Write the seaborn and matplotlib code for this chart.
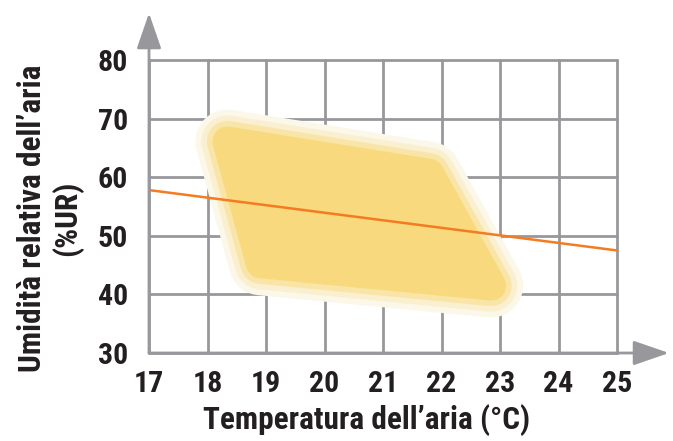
import numpy as np
import matplotlib
matplotlib.use("Agg")
import matplotlib.pyplot as plt
import seaborn as sns
from matplotlib.patches import Polygon

# comfort zone (inner corners, temperature / humidity)
zone_t = [18.34, 18.91, 22.85, 21.79]
zone_h = [66.1, 45.3, 41.5, 60.6]

# reference line
line_t = [17, 25]
line_h = [57.8, 47.5]

x_ticks = [17, 18, 19, 20, 21, 22, 23, 24, 25]
y_ticks = [30, 40, 50, 60, 70, 80]

sns.set_style("white")
plt.rcParams['font.family'] = ['Roboto Condensed', 'DejaVu Sans']

grey = "#98989c"
txt = "#231f20"

fig = plt.figure(figsize=(6.73, 4.41), dpi=100)
ax = fig.add_axes([149 / 673, 88 / 441, 468 / 673, 293 / 441])

pts = np.column_stack([zone_t, zone_h])
# soft edge bands, outermost first
bands = [(46, "#fbf7e9"), (37.5, "#faefcf"), (29.5, "#f9e5a8"), (21.5, "#f8d97d")]
for lw, col in bands:
    ax.add_patch(Polygon(pts, closed=True, facecolor=col, edgecolor=col,
                         linewidth=lw, joinstyle="round", zorder=1))

sns.lineplot(x=line_t, y=line_h, ax=ax, color="#f47b20", linewidth=1.8, zorder=3)

ax.set_xlim(17, 25)
ax.set_ylim(30, 80)
ax.set_xticks(x_ticks)
ax.set_yticks(y_ticks)
ax.grid(True, color=grey, linewidth=2.0)
for gl in ax.get_xgridlines() + ax.get_ygridlines():
    gl.set_clip_on(False)
for s in ax.spines.values():
    s.set_visible(False)

ax.tick_params(length=0, labelsize=21.5, colors=txt)
ax.tick_params(axis="x", pad=12)
ax.tick_params(axis="y", pad=15)
for lab in ax.get_xticklabels() + ax.get_yticklabels():
    lab.set_fontweight("bold")

ax.set_xlabel("Temperatura dell’aria (°C)", fontsize=22.5, fontweight="bold",
              color=txt)
ax.set_ylabel("Umidità relativa dell’aria\n(%UR)", fontsize=22.5, fontweight="bold",
              color=txt, linespacing=1.2)
ax.xaxis.set_label_coords(0.465, -0.175)
ax.yaxis.set_label_coords(-0.14, 0.46)

# axis arrows
style = "-|>,head_length=2.2,head_width=0.76"
ax.annotate("", xy=(0, 1.16), xytext=(0, 0), xycoords="axes fraction",
            arrowprops=dict(arrowstyle=style, color=grey, lw=2.0,
                            shrinkA=0, shrinkB=0),
            annotation_clip=False)
ax.annotate("", xy=(1.111, 0), xytext=(0, 0), xycoords="axes fraction",
            arrowprops=dict(arrowstyle=style, color=grey, lw=2.0,
                            shrinkA=0, shrinkB=0),
            annotation_clip=False)

fig.savefig("out.png", dpi=100)
